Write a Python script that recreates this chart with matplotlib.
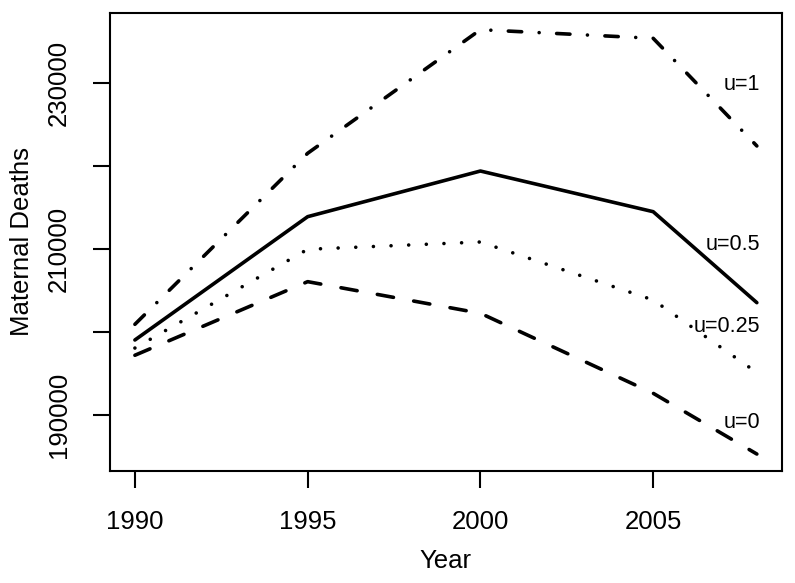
import matplotlib
matplotlib.use("Agg")
import matplotlib.pyplot as plt

plt.rcParams['font.family'] = ['Liberation Sans', 'DejaVu Sans']
plt.rcParams['lines.scale_dashes'] = False

years = [1990, 1995, 2000, 2005, 2008]
u1 = [200960, 221570, 236460, 235420, 222450]
u05 = [199070, 213930, 219430, 214530, 203570]
u025 = [198100, 210000, 210880, 203890, 195150]
u0 = [197230, 206100, 202290, 192650, 185330]

label_x = [2007.56, 2007.31, 2007.13, 2007.56]
label_y = [229800, 210520, 200680, 189100]
label_txt = ['u=1', 'u=0.5', 'u=0.25', 'u=0']

xticks = [1990, 1995, 2000, 2005]
yticks = [190000, 200000, 210000, 220000, 230000]
ytick_labels = ['190000', '', '210000', '', '230000']

fig = plt.figure(figsize=(7.95, 5.83), dpi=100)
ax = fig.add_axes([0.1384, 0.1921, 0.9833 - 0.1384, 0.9782 - 0.1921])

lw = 2.6
ax.plot(years, u1, color='black', lw=lw, dashes=(9.6, 12.6, 0.01, 12.6),
        dash_capstyle='round', solid_capstyle='round', solid_joinstyle='round')
ax.plot(years, u05, color='black', lw=lw, solid_capstyle='round', solid_joinstyle='round')
ax.plot(years, u025, color='black', lw=lw, dashes=(0.01, 12.7),
        dash_capstyle='round')
ax.plot(years, u0, color='black', lw=lw, dashes=(11.8, 14.8),
        dash_capstyle='round')

for x, y, t in zip(label_x, label_y, label_txt):
    ax.text(x, y, t, ha='center', va='center', fontsize=15.5)

xmin, xmax = min(years), max(years)
xr = xmax - xmin
ax.set_xlim(xmin - 0.04 * xr, xmax + 0.04 * xr)
allv = u1 + u05 + u025 + u0
ymin, ymax = min(allv), max(allv)
yr = ymax - ymin
ax.set_ylim(ymin - 0.04 * yr, ymax + 0.04 * yr)

ax.set_xticks(xticks)
ax.set_xticklabels([str(v) for v in xticks], fontsize=18.5)
ax.set_yticks(yticks)
ax.set_yticklabels(ytick_labels, fontsize=18.5, rotation=90, va='center')
ax.tick_params(axis='both', direction='out', length=12, width=1.5, pad=16, color='black')

for s in ax.spines.values():
    s.set_linewidth(1.5)

ax.set_xlabel('Year', fontsize=18.5, va='center')
ax.xaxis.set_label_coords(0.5, -0.196)
ax.set_ylabel('Maternal Deaths', fontsize=18.5, va='center')
ax.yaxis.set_label_coords(-0.131, 0.5)

fig.savefig('out.png', dpi=100)
